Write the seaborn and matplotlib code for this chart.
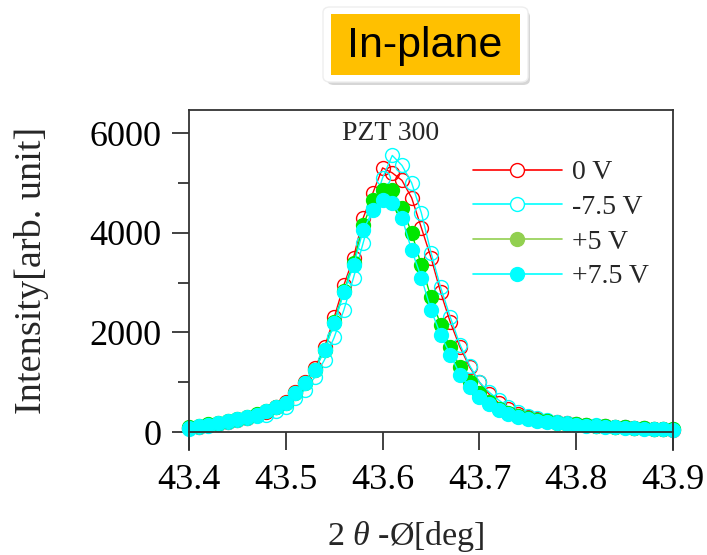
import numpy as np
import pandas as pd
import matplotlib
matplotlib.use("Agg")
import matplotlib.pyplot as plt
import seaborn as sns
from matplotlib.lines import Line2D
from matplotlib.patches import Rectangle, FancyBboxPatch

# 2theta-phi scan, 0.01 deg steps
theta = [round(43.40 + 0.01 * i, 2) for i in range(51)]

v0 = [80, 110, 140, 170, 210, 250, 290, 340, 410, 500, 600, 800, 1000, 1280, 1700,
      2300, 2950, 3500, 4300, 4800, 5300, 5200, 5050, 4700, 4100, 3500, 2800, 2200, 1700, 1300,
      1000, 760, 580, 460, 370, 310, 260, 230, 200, 180, 160, 140, 130, 115, 105,
      95, 85, 75, 65, 55, 50]
vm75 = [70, 100, 130, 160, 200, 240, 280, 320, 350, 420, 500, 680, 850, 1100, 1450,
        1900, 2450, 3100, 3800, 4500, 5100, 5550, 5350, 5000, 4400, 3600, 2900, 2300, 1750, 1330,
        1000, 800, 640, 500, 400, 330, 280, 240, 210, 185, 165, 150, 135, 120, 110,
        100, 90, 80, 70, 60, 55]
vp5 = [100, 130, 160, 190, 230, 270, 310, 360, 430, 510, 590, 790, 990, 1250, 1650,
       2200, 2820, 3400, 4150, 4650, 4850, 4850, 4500, 4000, 3350, 2700, 2150, 1700, 1300, 1000,
       780, 600, 470, 380, 320, 280, 245, 215, 190, 170, 160, 140, 130, 120, 110,
       100, 90, 80, 70, 65, 60]
vp75 = [90, 120, 150, 180, 220, 260, 300, 350, 420, 500, 580, 780, 980, 1240, 1640,
        2180, 2800, 3350, 4050, 4450, 4650, 4600, 4300, 3650, 3100, 2450, 1950, 1550, 1150, 900,
        700, 560, 440, 360, 300, 260, 230, 200, 180, 160, 150, 130, 120, 110, 100,
        90, 80, 70, 60, 55, 50]

labels = ["0 V", "-7.5 V", "+5 V", "+7.5 V"]

df = pd.concat([
    pd.DataFrame({"theta": theta, "intensity": vals, "bias": lab})
    for lab, vals in zip(labels, [v0, vm75, vp5, vp75])
])

sns.set_style("ticks")
plt.rcParams["font.family"] = ["Liberation Serif", "DejaVu Serif"]
plt.rcParams["mathtext.fontset"] = "custom"
plt.rcParams["mathtext.rm"] = "Liberation Serif"
plt.rcParams["mathtext.it"] = "Liberation Serif:italic"

fig = plt.figure(figsize=(7.07, 5.55), dpi=100)
ax = fig.add_axes([189 / 707, 1 - 450 / 555, 484 / 707, 340 / 555])

styles = {
    "0 V": dict(color="#FF0000", mfc="none", mec="#FF0000"),
    "-7.5 V": dict(color="#00FFFF", mfc="none", mec="#00FFFF"),
    "+5 V": dict(color="#00E600", mfc="#00E600", mec="#00E600"),
    "+7.5 V": dict(color="#00FFFF", mfc="#00FFFF", mec="#00FFFF"),
}
for lab in labels:
    st = styles[lab]
    sns.lineplot(data=df[df["bias"] == lab], x="theta", y="intensity", ax=ax,
                 color=st["color"], marker="o", ms=10, mfc=st["mfc"], mec=st["mec"],
                 mew=1.0, lw=1.0, clip_on=False, legend=False, errorbar=None)

ax.set_xlim(43.4, 43.9)
ax.set_ylim(-361, 6462)
ax.set_xticks([43.4, 43.5, 43.6, 43.7, 43.8, 43.9])
ax.set_xticklabels(["43.4", "43.5", "43.6", "43.7", "43.8", "43.9"])
ax.set_yticks([0, 2000, 4000, 6000])
ax.set_yticks([1000, 3000, 5000], minor=True)
ax.set_xlabel("")
ax.set_ylabel("")

for side in ["left", "top", "right", "bottom"]:
    ax.spines[side].set_visible(True)
    ax.spines[side].set_color("#333333")
    ax.spines[side].set_linewidth(1.3)
ax.spines["bottom"].set_position(("data", 0))

ax.tick_params(axis="both", which="major", labelsize=26, direction="out",
               color="#333333", width=1.3, labelcolor="black")
ax.tick_params(axis="x", which="major", length=13, pad=10)
ax.tick_params(axis="y", which="major", length=12, pad=8)
ax.tick_params(axis="y", which="minor", length=8, width=1.3, color="#333333")
ax.tick_params(top=False, right=False)

fig.text(32 / 707, 1 - 270 / 555, "Intensity[arb. unit]", rotation=90,
         ha="center", va="center", fontsize=27.5)
fig.text(406 / 707, 1 - 537 / 555, "2 $\\mathit{\\theta}$ -Ø[deg]",
         ha="center", va="center", fontsize=24.5)
fig.text(391 / 707, 1 - 133 / 555, "PZT 300", ha="center", va="center", fontsize=20)

handles = [
    Line2D([], [], color="#FF0000", marker="o", ms=10, mfc="white", mec="#FF0000", lw=1.2),
    Line2D([], [], color="#00FFFF", marker="o", ms=10, mfc="white", mec="#00FFFF", lw=1.2),
    Line2D([], [], color="#92D050", marker="o", ms=10, mfc="#92D050", mec="#92D050", lw=1.2),
    Line2D([], [], color="#00FFFF", marker="o", ms=10, mfc="#00FFFF", mec="#00FFFF", lw=1.2),
]
fig.legend(handles, labels, loc="upper left", bbox_to_anchor=(473 / 707, 1 - 160 / 555),
           frameon=False, fontsize=20, handlelength=3.2, handletextpad=0.36,
           labelspacing=0.33, borderpad=0, borderaxespad=0, numpoints=1)

# title badge
shadow = FancyBboxPatch((327 / 707, 1 - 85 / 555), 203 / 707, 74 / 555,
                        boxstyle="round,pad=0,rounding_size=0.01",
                        transform=fig.transFigure, facecolor="#BBBBBB",
                        edgecolor="none", alpha=0.6)
outer = FancyBboxPatch((323 / 707, 1 - 82 / 555), 205 / 707, 75 / 555,
                       boxstyle="round,pad=0,rounding_size=0.01",
                       transform=fig.transFigure, facecolor="white", edgecolor="#EEEEEE")
inner = Rectangle((331 / 707, 1 - 75 / 555), 189 / 707, 61 / 555,
                  transform=fig.transFigure, facecolor="#FFC000", edgecolor="none")
for p in (shadow, outer, inner):
    fig.patches.append(p)
fig.text(425 / 707, 1 - 46 / 555, "In-plane", ha="center", va="center",
         fontsize=31, family="Liberation Sans", color="black")

fig.savefig("out.png", dpi=100)
